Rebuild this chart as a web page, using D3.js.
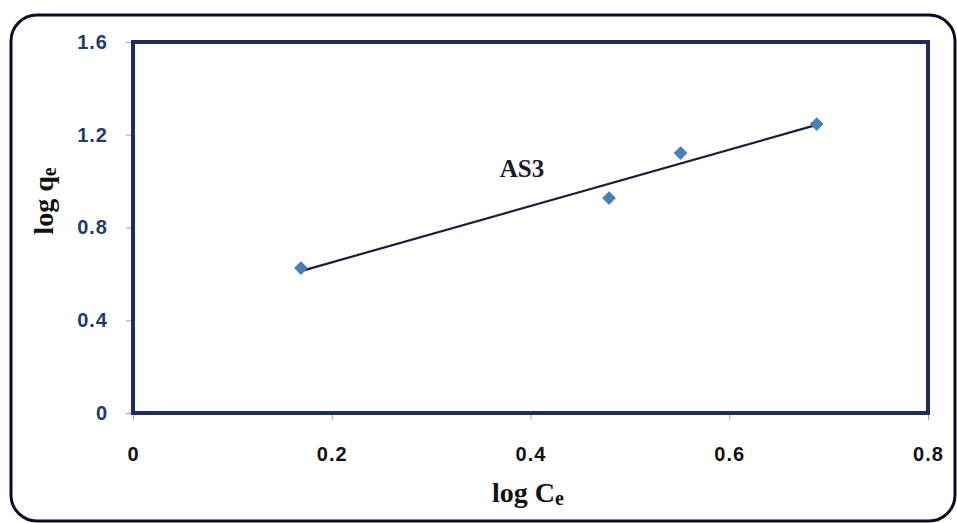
<!DOCTYPE html>
<html>
<head>
<meta charset="utf-8">
<script src="https://cdn.jsdelivr.net/npm/d3@7"></script>
<style>
  body { margin: 0; background: #fff; }
  svg { display: block; }
</style>
</head>
<body>
<script>
// data
const logCe = [0.169, 0.479, 0.551, 0.688];
const logQe = [0.625, 0.927, 1.121, 1.246];
const xTicks = [0, 0.2, 0.4, 0.6, 0.8];
const yTicks = [0, 0.4, 0.8, 1.2, 1.6];
const seriesName = 'AS3';

const W = 957, H = 523;
const margin = {left: 133, right: 29, top: 42, bottom: 110};
const tickFont = 'bold 20px "Liberation Sans", Arial, sans-serif';
const serif = '"Liberation Serif", "Times New Roman", serif';

const svg = d3.select(document.body).append('svg')
  .attr('width', W)
  .attr('height', H);

// outer rounded frame
svg.append('rect')
  .attr('x', 11).attr('y', 15)
  .attr('width', 944).attr('height', 506)
  .attr('rx', 26).attr('ry', 26)
  .attr('fill', '#fff')
  .attr('stroke', '#0c0c26')
  .attr('stroke-width', 3);

const x = d3.scaleLinear().domain([0, 0.8]).range([margin.left, W - margin.right]);
const y = d3.scaleLinear().domain([0, 1.6]).range([H - margin.bottom, margin.top]);
const fmt = d => d === 0 ? '0' : d3.format('.1f')(d);

// axes
const yAxis = svg.append('g')
  .attr('transform', `translate(${margin.left},0)`)
  .call(d3.axisLeft(y).tickValues(yTicks).tickSize(7).tickPadding(18).tickFormat(fmt));
yAxis.select('.domain').remove();
yAxis.selectAll('line').attr('stroke', '#9aa3b5');
yAxis.selectAll('text')
  .attr('fill', '#1f3a6e')
  .style('font', tickFont)
  .style('letter-spacing', '1px');

const xAxis = svg.append('g')
  .attr('transform', `translate(0,${H - margin.bottom})`)
  .call(d3.axisBottom(x).tickValues(xTicks).tickSize(7).tickPadding(27).tickFormat(fmt));
xAxis.select('.domain').remove();
xAxis.selectAll('line').attr('stroke', '#9aa3b5');
xAxis.selectAll('text')
  .attr('fill', '#111')
  .style('font', tickFont)
  .style('letter-spacing', '1px');

// plot box
svg.append('rect')
  .attr('x', margin.left).attr('y', margin.top)
  .attr('width', W - margin.right - margin.left)
  .attr('height', H - margin.bottom - margin.top)
  .attr('fill', 'none')
  .attr('stroke', '#1f2c5c')
  .attr('stroke-width', 4);

// linear trend line through the points
const pts = logCe.map((v, i) => [v, logQe[i]]);
const mx = d3.mean(logCe), my = d3.mean(logQe);
const slope = d3.sum(pts, p => (p[0] - mx) * (p[1] - my)) / d3.sum(pts, p => (p[0] - mx) ** 2);
const icpt = my - slope * mx;
const xEnds = d3.extent(logCe);
svg.append('line')
  .attr('x1', x(xEnds[0])).attr('y1', y(icpt + slope * xEnds[0]))
  .attr('x2', x(xEnds[1])).attr('y2', y(icpt + slope * xEnds[1]))
  .attr('stroke', '#16203a')
  .attr('stroke-width', 2.2);

// markers
svg.selectAll('path.pt').data(pts).join('path')
  .attr('class', 'pt')
  .attr('d', d3.symbol(d3.symbolDiamond2, 120))
  .attr('transform', d => `translate(${x(d[0])},${y(d[1])})`)
  .attr('fill', '#4a7ebb');

// series label
svg.append('text')
  .attr('x', 522).attr('y', 177)
  .attr('text-anchor', 'middle')
  .style('font', `bold 25px ${serif}`)
  .attr('fill', '#1a1a2e')
  .text(seriesName);

// axis titles
const xt = svg.append('text')
  .attr('x', 528).attr('y', 502)
  .attr('text-anchor', 'middle')
  .style('font', `bold 28px ${serif}`)
  .attr('fill', '#111');
xt.append('tspan').text('log C');
xt.append('tspan').attr('dy', 3).style('font-size', '20px').text('e');

const yt = svg.append('text')
  .attr('transform', 'translate(53,201) rotate(-90)')
  .attr('text-anchor', 'middle')
  .style('font', `bold 28px ${serif}`)
  .attr('fill', '#111');
yt.append('tspan').text('log q');
yt.append('tspan').attr('dy', 3).style('font-size', '20px').text('e');
</script>
</body>
</html>
